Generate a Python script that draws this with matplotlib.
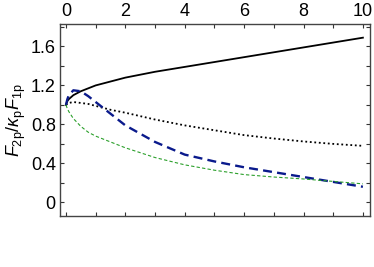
import numpy as np
import matplotlib
matplotlib.use('Agg')
import matplotlib.pyplot as plt
from matplotlib.ticker import MultipleLocator

plt.rcParams['font.family'] = ['Liberation Sans', 'DejaVu Sans']
plt.rcParams['mathtext.fontset'] = 'custom'
plt.rcParams['mathtext.rm'] = 'Liberation Sans'
plt.rcParams['mathtext.it'] = 'Liberation Sans:italic'

# values
x_vals = [0, 0.05, 0.1, 0.25, 0.5, 0.75, 1, 1.5, 2, 3, 4, 5, 6, 7, 8, 9, 10]
solid_vals = [1.0, 1.04, 1.06, 1.10, 1.14, 1.17, 1.20, 1.24, 1.28, 1.34, 1.39,
              1.44, 1.49, 1.54, 1.59, 1.64, 1.69]
dotted_vals = [1.0, 1.01, 1.02, 1.03, 1.02, 1.01, 0.99, 0.95, 0.92, 0.85, 0.79,
               0.74, 0.69, 0.655, 0.625, 0.60, 0.58]
blue_vals = [1.0, 1.06, 1.10, 1.15, 1.14, 1.09, 1.03, 0.91, 0.79, 0.62, 0.49,
             0.42, 0.36, 0.31, 0.26, 0.21, 0.16]
green_vals = [1.0, 0.96, 0.93, 0.86, 0.78, 0.72, 0.68, 0.62, 0.56, 0.46, 0.385,
              0.33, 0.285, 0.26, 0.24, 0.215, 0.19]

fig = plt.figure(figsize=(3.74, 2.67), dpi=100)
ax = fig.add_axes([0.1604, 0.191, 0.829, 0.719])

ax.plot(x_vals, solid_vals, color='black', lw=1.3)
ax.plot(x_vals, dotted_vals, color='black', lw=1.3, linestyle=(0, (1, 1.5)))
ax.plot(x_vals, blue_vals, color='#0a1a8c', lw=1.7, linestyle=(0, (3.8, 2.2)))
ax.plot(x_vals, green_vals, color='#2ca02c', lw=0.8, linestyle=(0, (3, 2)))

ax.set_xlim(-0.2, 10.24)
ax.set_ylim(-0.14, 1.83)

ax.xaxis.set_major_locator(MultipleLocator(2))
ax.xaxis.set_minor_locator(MultipleLocator(1))
ax.yaxis.set_minor_locator(MultipleLocator(0.2))
ax.set_yticks([0, 0.4, 0.8, 1.2, 1.6])
ax.set_yticklabels(['0', '0.4', '0.8', '1.2', '1.6'])

ax.tick_params(which='both', direction='in', top=True, right=True,
               labeltop=True, labelbottom=False, labelsize=13,
               length=3, width=0.8, color='#333333', pad=3)

for s in ax.spines.values():
    s.set_color('#444444')
    s.set_linewidth(1.0)

ax.set_ylabel(r'$F_{2\mathrm{p}}/\kappa_{\mathrm{p}}F_{1\mathrm{p}}$', fontsize=13,
              labelpad=2)

fig.savefig('out.png', dpi=100)
